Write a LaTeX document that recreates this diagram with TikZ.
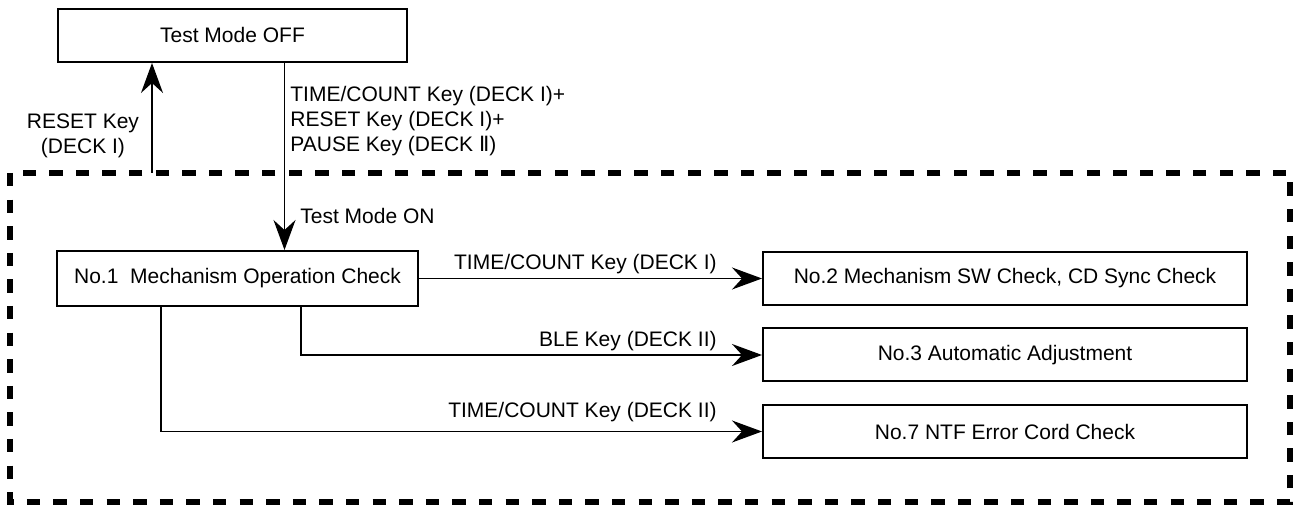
\documentclass[tikz,border=0pt]{standalone}
\usepackage{fontspec}
\setmainfont{Liberation Sans}
\newfontfamily\romanfont{DejaVu Sans}
\usetikzlibrary{positioning,arrows.meta}
\newcommand{\deckII}{{\romanfont Ⅱ}}

\begin{document}
\begin{tikzpicture}[
    x=0.5pt, y=-0.5pt,
    node distance=10.75pt,
    font=\fontsize{10.5}{12.5}\selectfont,
    modebox/.style={
        draw,
        line width=1pt,
        align=center,
        minimum height=26.5pt,
        inner sep=0pt
    },
    checkbox/.style={modebox, minimum width=242pt},
    keylabel/.style={inner sep=0pt},
    flowarrow/.style={line width=0.75pt, -{Stealth[length=15pt, width=11pt, inset=5pt]}},
    testarea/.style={line width=2.6pt, dash pattern=on 6.7pt off 6.6pt}
]
\useasboundingbox (0,0) rectangle (1293,506);

% test mode area
\draw[testarea] (10,173) rectangle (1290,502);

\node[modebox, minimum width=174.5pt] (off) at (232.5,35.5) {Test Mode OFF};
\node[modebox, minimum width=180.5pt, minimum height=27.5pt] (no1) at (237.5,278.5) {No.1\ \ Mechanism Operation Check};
\node[checkbox] (no2) at (1005,278.5) {No.2 Mechanism SW Check, CD Sync Check};
\node[checkbox, below=of no2] (no3) {No.3 Automatic Adjustment};
\node[checkbox, below=of no3] (no7) {No.7 NTF Error Cord Check};

\node[keylabel, align=center] (rstkey) at (83,136) {RESET Key\\(DECK I)};
\node[keylabel, align=left, anchor=west] (onkeys) at (290,121) {TIME/COUNT Key (DECK I)+\\RESET Key (DECK I)+\\PAUSE Key (DECK \deckII)};
\node[keylabel, anchor=base west] (onlabel) at (300,224) {Test Mode ON};
\node[keylabel, anchor=base east] (tc1key) at (717,270) {TIME/COUNT Key (DECK I)};
\node[keylabel, anchor=base east] (blekey) at (717,347) {BLE Key (DECK II)};
\node[keylabel, anchor=base east] (tc2key) at (717,418) {TIME/COUNT Key (DECK II)};

\coordinate (rst) at (152,173);
\coordinate (on) at (284.5,0);
\coordinate (ble) at (301,0);
\coordinate (tc2) at (161,0);

\draw[flowarrow] (rst) -- (off.south -| rst);
\draw[flowarrow] (off.south -| on) -- (no1.north -| on);
\draw[flowarrow] (no1) -- (no2);
\draw[flowarrow] (no1.south -| ble) |- (no3);
\draw[flowarrow] (no1.south -| tc2) |- (no7);
\end{tikzpicture}
\end{document}
